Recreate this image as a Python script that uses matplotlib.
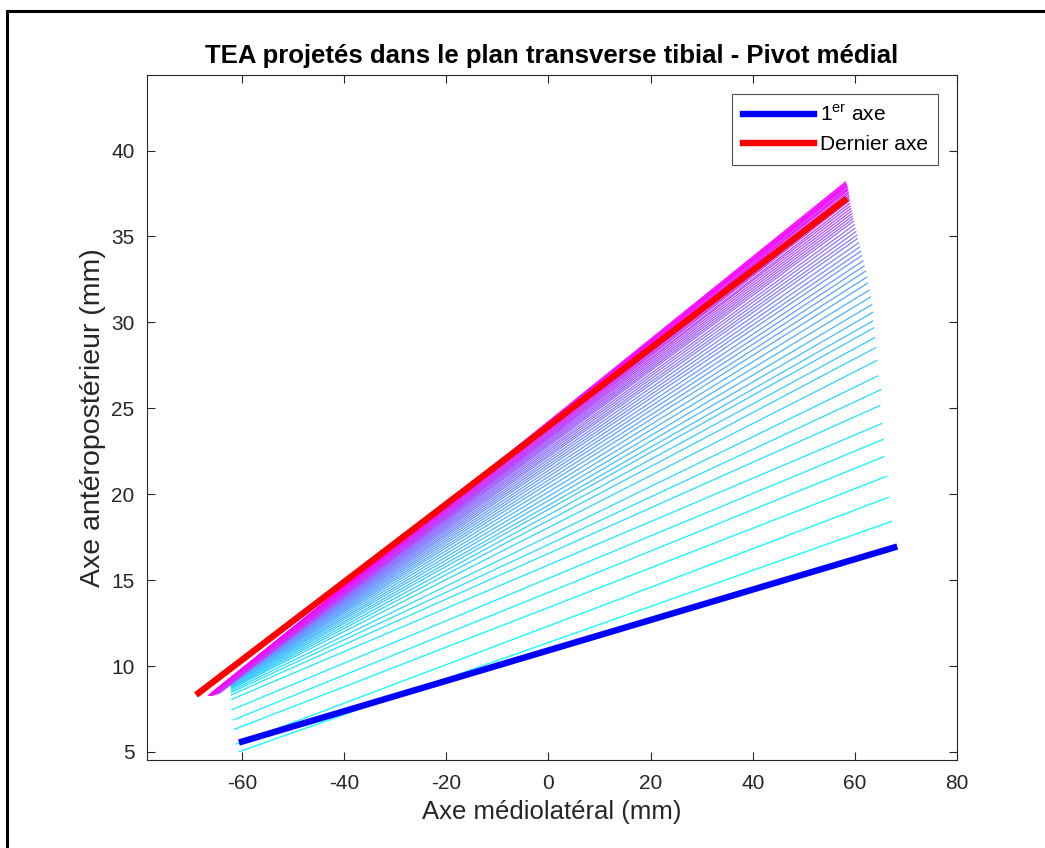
import matplotlib
matplotlib.use("Agg")
import matplotlib.pyplot as plt
from matplotlib.patches import Rectangle

plt.rcParams['font.family'] = ['Liberation Sans', 'DejaVu Sans']
plt.rcParams['mathtext.fontset'] = 'custom'
plt.rcParams['mathtext.rm'] = 'Liberation Sans'
plt.rcParams['axes.unicode_minus'] = False

# axes projetes successifs (extremites gauche / droite, en mm)
x_left = [-60.7, -61.2, -61.6, -61.8, -62.0, -62.1, -62.2, -62.2, -62.2, -62.2,
          -62.2, -62.2, -62.2, -62.2, -62.2, -62.2, -62.2,
          -62.3, -62.3, -62.3, -62.3, -62.3, -62.3, -62.3, -62.3, -62.3, -62.3,
          -62.3, -62.3, -62.3, -62.3, -62.3, -62.3, -62.3, -62.3, -62.3, -62.3,
          -62.3, -62.3,
          -64.4, -64.6, -64.8, -65.0, -65.2, -65.4, -65.6, -65.8, -65.9, -66.0,
          -66.1, -66.2, -66.3, -66.4, -66.5, -66.6]
y_left = [5.0, 5.45, 6.3, 6.85, 7.45, 8.05, 8.3, 8.45, 8.55, 8.65,
          8.7, 8.75, 8.8, 8.85, 8.9, 8.92, 8.95,
          8.97, 8.99, 9.0, 9.02, 9.03, 9.05, 9.06, 9.07, 9.08, 9.09,
          9.10, 9.11, 9.12, 9.12, 9.13, 9.14, 9.14, 9.15, 9.15, 9.16,
          9.16, 9.17,
          8.42, 8.40, 8.38, 8.36, 8.34, 8.32, 8.30, 8.28, 8.28, 8.28,
          8.28, 8.28, 8.28, 8.28, 8.29, 8.28]
x_right = [67.3, 66.7, 66.3, 65.8, 65.6, 65.4, 65.0, 65.2, 64.6, 64.4,
           64.2, 64.0, 63.8, 63.6, 63.6, 63.4, 63.2,
           62.9, 62.6, 62.4, 62.2, 61.9, 61.7, 61.4, 61.2, 61.0, 60.8,
           60.6, 60.5, 60.3, 60.1, 60.0, 59.8, 59.7, 59.6, 59.5, 59.4,
           59.3, 59.2,
           59.1, 59.0, 59.0, 58.9, 58.9, 58.8, 58.8, 58.7, 58.7, 58.6,
           58.6, 58.5, 58.4, 58.4, 58.3, 58.3]
y_right = [18.43, 19.83, 21.05, 22.2, 23.2, 24.13, 25.17, 26.1, 26.9, 27.8,
           28.55, 29.13, 29.7, 30.1, 30.6, 31.05, 31.5,
           31.9, 32.3, 32.65, 33.0, 33.3, 33.6, 33.9, 34.15, 34.4, 34.65,
           34.9, 35.1, 35.3, 35.5, 35.7, 35.9, 36.05, 36.2, 36.35, 36.5,
           36.65, 36.8,
           36.95, 37.1, 37.2, 37.3, 37.4, 37.5, 37.6, 37.7, 37.75, 37.8,
           37.9, 37.95, 38.0, 38.05, 38.1, 38.2]

premier_x = [-60.0, 67.7]
premier_y = [5.6, 16.9]
dernier_x = [-68.5, 57.95]
dernier_y = [8.43, 37.1]

xticks = [-60, -40, -20, 0, 20, 40, 60, 80]
yticks = [5, 10, 15, 20, 25, 30, 35, 40]

fig = plt.figure(figsize=(10.45, 8.48), dpi=100)
ax = fig.add_axes([147 / 1045, 88 / 848, 810 / 1045, 685 / 848])

cmap = plt.get_cmap('cool')
n = len(x_left)
for i in range(n):
    ax.plot([x_left[i], x_right[i]], [y_left[i], y_right[i]],
            color=cmap(i / (n - 1)), lw=0.9, solid_capstyle='butt')

ax.plot(premier_x, premier_y, color='#0000ff', lw=4.6, label='1$^{\\mathrm{er}}$ axe')
ax.plot(dernier_x, dernier_y, color='#ff0000', lw=4.6, label='Dernier axe')

ax.set_xlim(-78.6, 80)
ax.set_ylim(4.53, 44.4)
ax.set_xticks(xticks)
ax.set_yticks(yticks)

dark = '#262626'
for s in ax.spines.values():
    s.set_color(dark)
    s.set_linewidth(0.8)
ax.tick_params(direction='in', length=6, width=0.8, top=True, right=True,
               colors=dark, labelsize=15)
ax.tick_params(axis='x', pad=10)
ax.tick_params(axis='y', pad=9)

ax.set_title('TEA projetés dans le plan transverse tibial - Pivot médial',
             fontsize=18.5, fontweight='bold', color='black', pad=9)
ax.set_xlabel('Axe médiolatéral (mm)', fontsize=18.5, color=dark, labelpad=5)
ax.set_ylabel('Axe antéropostérieur (mm)', fontsize=20.5, color=dark, labelpad=4)

leg = ax.legend(loc='upper right', fontsize=15, frameon=True, fancybox=False,
                handlelength=3.4, borderaxespad=0.9, handletextpad=0.3,
                borderpad=0.5, labelspacing=0.5)
leg.get_frame().set_edgecolor(dark)
leg.get_frame().set_linewidth(0.8)

# cadre de la figure
fig.patches.append(Rectangle((7 / 1045, -0.05), 1.1, (837 / 848) + 0.05,
                             transform=fig.transFigure, fill=False,
                             edgecolor='black', lw=2.2))

fig.savefig('out.png', dpi=100)
